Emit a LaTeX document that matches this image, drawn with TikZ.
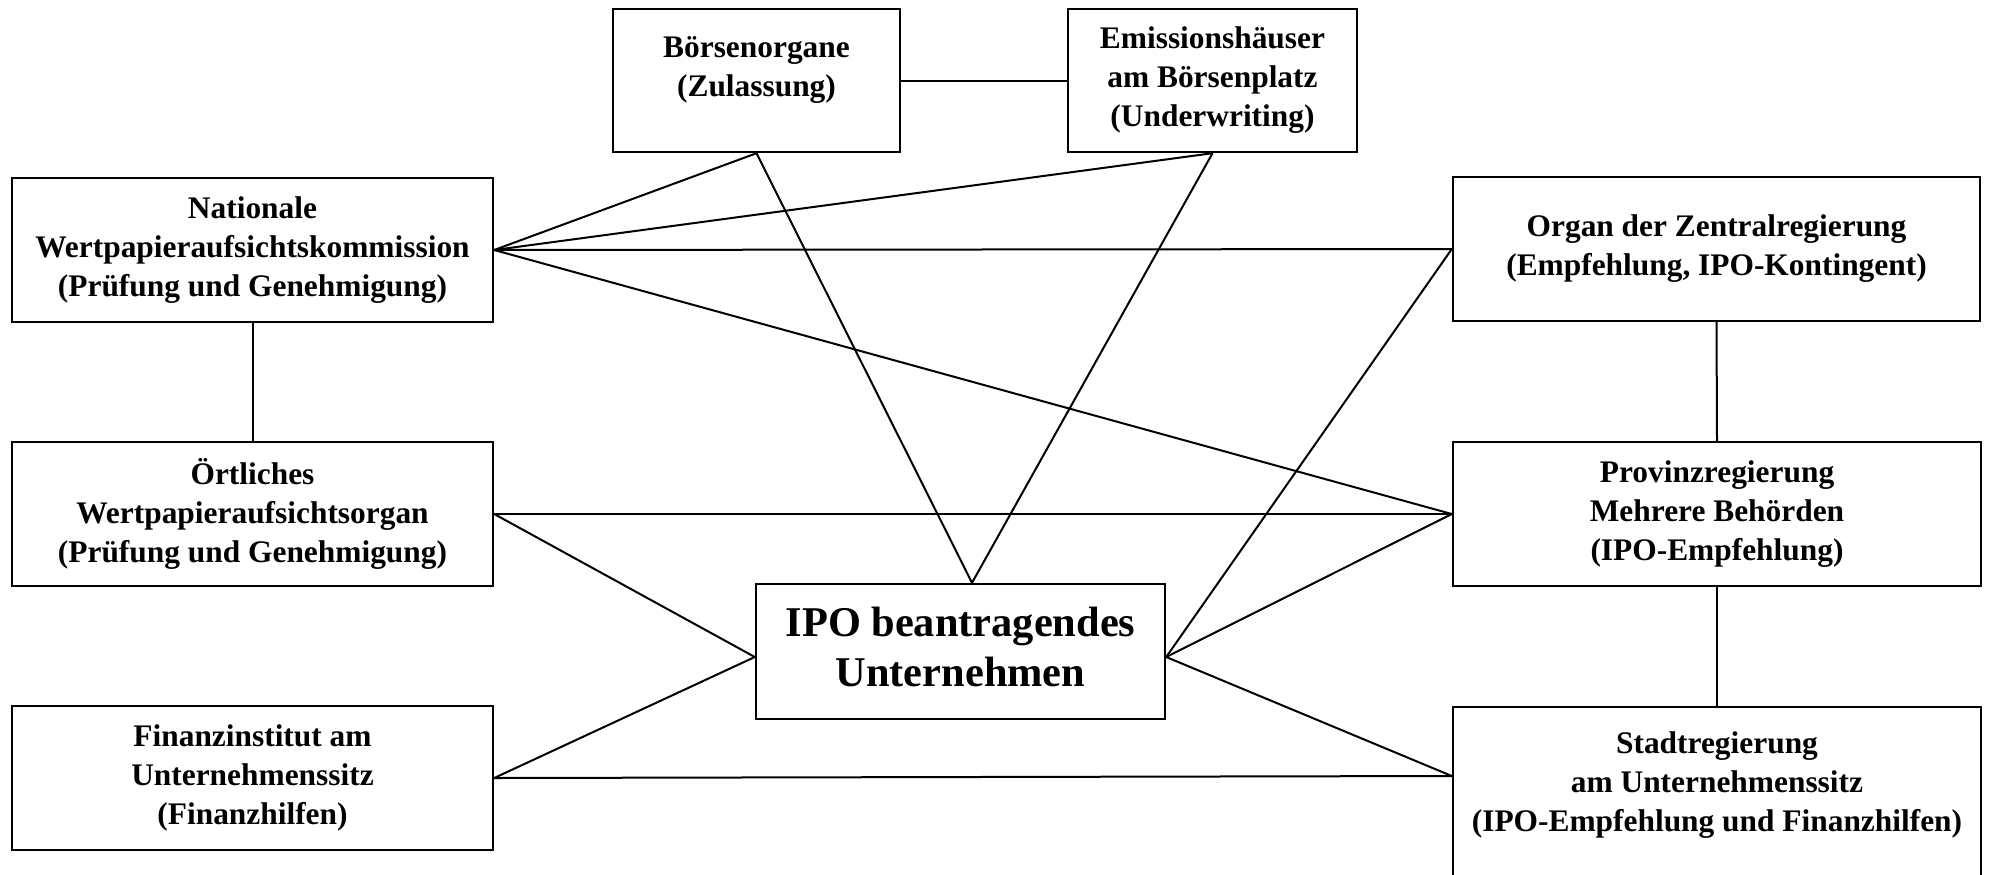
\documentclass[tikz,border=0pt]{standalone}
\usepackage{fontspec}
\setmainfont{Liberation Serif}
\newcommand\bxfont{\fontsize{15.7}{19.5}\selectfont\bfseries}
\newcommand\ipofont{\fontsize{21.2}{25}\selectfont\bfseries}
\tikzset{
  box/.style={draw, line width=1.2pt, align=center, font=\bxfont, inner sep=0pt},
  conn/.style={line width=1pt},
}
\begin{document}
\begin{tikzpicture}[x=0.5pt,y=-0.5pt]
\useasboundingbox (0,0) rectangle (1991,874);
% left column
\node[box, minimum width=240.5pt, minimum height=72pt] (nat) at (252.5,250)
  {Nationale\\Wertpapieraufsichtskommission\\(Prüfung und Genehmigung)};
\node[box, minimum width=240.5pt, minimum height=72pt] (ort) at (252.5,514)
  {Örtliches\\Wertpapieraufsichtsorgan\\(Prüfung und Genehmigung)};
\node[box, minimum width=240.5pt, minimum height=72pt] (fin) at (252.5,778)
  {Finanzinstitut am\\Unternehmenssitz\\(Finanzhilfen)};
% top row
\node[box, minimum width=143.5pt, minimum height=71.5pt] (boers) at (756.5,80.5)
  {Börsenorgane\\(Zulassung)\\[-11pt]\strut};
\node[box, minimum width=144.5pt, minimum height=71.5pt] (emis) at (1212.5,80.5)
  {Emissionshäuser\\am Börsenplatz\\(Underwriting)};
% right column
\node[box, minimum width=263.5pt, minimum height=72pt] (organ) at (1716.5,249)
  {Organ der Zentralregierung\\(Empfehlung, IPO-Kontingent)};
\node[box, minimum width=264pt, minimum height=72pt] (prov) at (1717,514)
  {Provinzregierung\\Mehrere Behörden\\(IPO-Empfehlung)};
\node[box, minimum width=264pt, minimum height=100pt, anchor=north] (stadt) at (1717,706)
  {Stadtregierung\\am Unternehmenssitz\\(IPO-Empfehlung und Finanzhilfen)\\\strut};
% centre
\node[box, font=\ipofont, minimum width=204.5pt, minimum height=67.5pt] (ipo) at (960.5,651.5)
  {IPO beantragendes\\Unternehmen\\[-28pt]\strut};
% ports
\coordinate (ipoT) at ([xshift=5.75pt]ipo.north);
\coordinate (ipoR) at ([yshift=-2.75pt]ipo.east);
\coordinate (ipoL) at ([yshift=-2.75pt]ipo.west);
\coordinate (stadtW) at ([yshift=-35pt]stadt.north west);
% connectors
\draw[conn] (boers.east) -- (emis.west);
\draw[conn] (nat.east) -- (boers.south);
\draw[conn] (nat.east) -- (emis.south);
\draw[conn] (nat.east) -- (organ.west);
\draw[conn] (nat.east) -- (prov.west);
\draw[conn] (nat.south) -- (ort.north);
\draw[conn] (boers.south) -- (ipoT);
\draw[conn] (emis.south) -- (ipoT);
\draw[conn] (ipoR) -- (organ.west);
\draw[conn] (ipoR) -- (prov.west);
\draw[conn] (ipoR) -- (stadtW);
\draw[conn] (ort.east) -- (prov.west);
\draw[conn] (ort.east) -- (ipoL);
\draw[conn] (fin.east) -- (ipoL);
\draw[conn] (fin.east) -- (stadtW);
\draw[conn] (organ.south) -- (prov.north);
\draw[conn] (prov.south) -- (stadt.north);
\end{tikzpicture}
\end{document}
